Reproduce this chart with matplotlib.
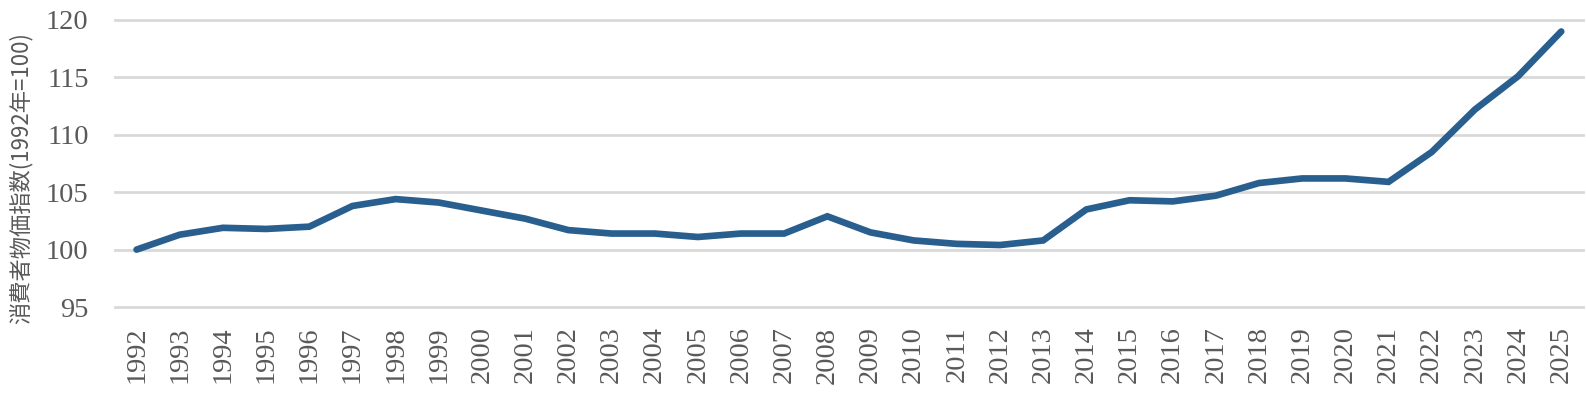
import numpy as np
import matplotlib
matplotlib.use("Agg")
import matplotlib.pyplot as plt

# CPI, 1992 = 100
years = list(range(1992, 2026))
cpi = [100.0, 101.3, 101.9, 101.8, 102.0, 103.8, 104.4, 104.1, 103.4, 102.7,
       101.7, 101.4, 101.4, 101.1, 101.4, 101.4, 102.9, 101.5, 100.8, 100.5,
       100.4, 100.8, 103.5, 104.3, 104.2, 104.7, 105.8, 106.2, 106.2, 105.9,
       108.5, 112.2, 115.1, 119.0]
yticks = [95, 100, 105, 110, 115, 120]
ylabel = "消費者物価指数(1992年=100)"

line_color = "#285F8E"
text_color = "#595959"
grid_color = "#D9D9D9"

fig = plt.figure(figsize=(15.86, 3.96), dpi=100)
ax = fig.add_axes([0.0725, 0.2247, 0.9255, 0.7248])

x = np.arange(len(years))
ax.plot(x, cpi, color=line_color, linewidth=4.8, solid_capstyle="round",
        solid_joinstyle="miter", zorder=3)

ax.set_xlim(-0.5, len(years) - 0.5)
ax.set_ylim(95, 120)
ax.set_yticks(yticks)
ax.set_xticks(x)
ax.set_xticklabels([str(y) for y in years], rotation=90)

for lab in ax.get_xticklabels() + ax.get_yticklabels():
    lab.set_family("Liberation Serif")
    lab.set_color(text_color)
    lab.set_fontsize(20.5)

ax.tick_params(axis="x", length=0, pad=14)
ax.tick_params(axis="y", length=0, pad=19)
ax.grid(axis="y", color=grid_color, linewidth=2, zorder=0)
# keep the top/bottom gridlines full width (not clipped at the axes edge)
for gl in ax.get_ygridlines():
    gl.set_clip_on(False)
for s in ax.spines.values():
    s.set_visible(False)

ax.set_ylabel(ylabel, family=["Noto Sans CJK JP", "DejaVu Sans"], fontsize=16,
              color=text_color)
ax.yaxis.set_label_coords(-0.056, 0.45)

fig.savefig("out.png", dpi=100)
